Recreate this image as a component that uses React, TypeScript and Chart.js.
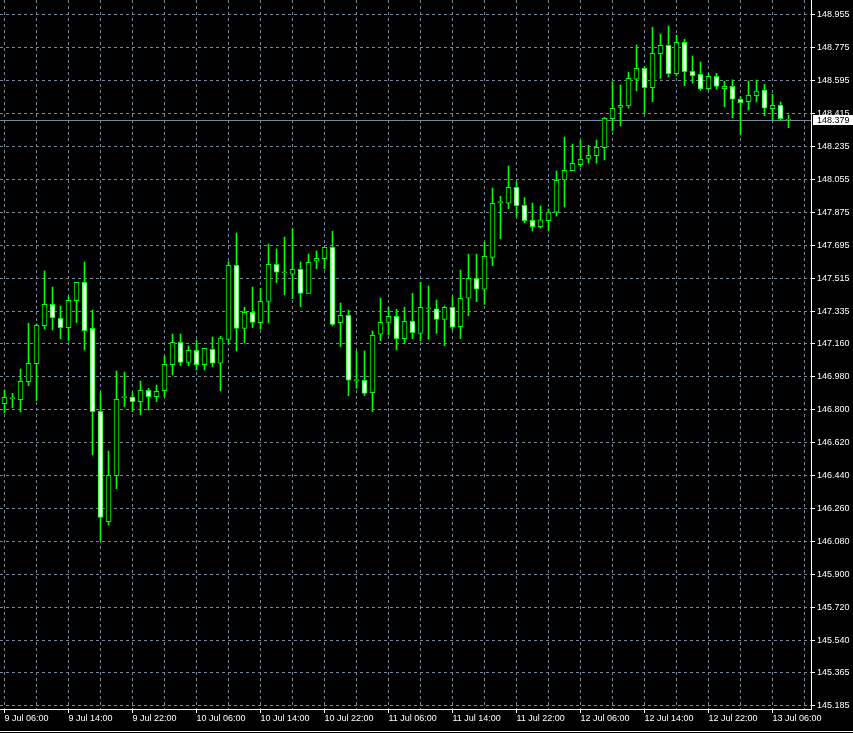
import { useEffect, useRef } from "react";
import { Chart, registerables } from "chart.js";

Chart.register(...registerables);

// Hourly candles, 9 Jul 06:00 → 13 Jul 08:00
const opens = [
  146.832, 146.860, 146.854, 146.952, 147.050, 147.257, 147.374, 147.298, 147.247, 147.394,
  147.494, 147.243, 146.791, 146.189, 146.440, 146.865, 146.869, 146.843, 146.905, 146.870,
  146.903, 147.045, 147.167, 147.058, 147.123, 147.045, 147.129, 147.053, 147.183, 147.587,
  147.243, 147.331, 147.274, 147.390, 147.592, 147.546, 147.538, 147.565, 147.434, 147.609,
  147.623, 147.685, 147.274, 147.314, 146.958, 146.960, 146.892, 147.211, 147.276, 147.309,
  147.187, 147.281, 147.216, 147.350, 147.350, 147.292, 147.358, 147.252, 147.407, 147.516,
  147.456, 147.630, 147.928, 147.925, 148.012, 147.914, 147.832, 147.797, 147.830, 147.877,
  148.052, 148.102, 148.135, 148.170, 148.184, 148.228, 148.386, 148.448, 148.455, 148.602,
  148.661, 148.555, 148.740, 148.786, 148.631, 148.802, 148.644, 148.628, 148.549, 148.617,
  148.549, 148.562, 148.492, 148.479, 148.511, 148.542, 148.440, 148.459, 148.379,
];
const highs = [
  146.907, 146.889, 147.021, 147.271, 147.267, 147.556, 147.468, 147.365, 147.416, 147.494,
  147.605, 147.343, 146.892, 146.574, 147.011, 147.005, 146.892, 146.956, 146.916, 146.934,
  147.092, 147.212, 147.212, 147.147, 147.180, 147.134, 147.196, 147.200, 147.606, 147.763,
  147.358, 147.468, 147.461, 147.703, 147.676, 147.741, 147.785, 147.605, 147.648, 147.665,
  147.685, 147.772, 147.381, 147.343, 147.120, 147.120, 147.229, 147.408, 147.358, 147.347,
  147.358, 147.434, 147.494, 147.474, 147.398, 147.365, 147.416, 147.561, 147.648, 147.648,
  147.712, 148.008, 147.963, 148.128, 148.041, 147.955, 147.926, 147.910, 147.894, 148.101,
  148.286, 148.248, 148.266, 148.241, 148.270, 148.393, 148.588, 148.570, 148.640, 148.788,
  148.669, 148.884, 148.848, 148.891, 148.842, 148.819, 148.728, 148.695, 148.633, 148.633,
  148.591, 148.598, 148.506, 148.591, 148.597, 148.573, 148.519, 148.477, 148.406,
];
const lows = [
  146.783, 146.811, 146.787, 146.930, 146.849, 147.239, 147.234, 147.185, 147.176, 147.274,
  147.125, 146.553, 146.085, 146.171, 146.369, 146.816, 146.789, 146.771, 146.798, 146.843,
  146.870, 146.989, 147.039, 147.039, 147.016, 147.016, 147.034, 146.903, 147.158, 147.121,
  147.163, 147.247, 147.239, 147.274, 147.492, 147.426, 147.405, 147.361, 147.434, 147.568,
  147.568, 147.256, 147.143, 146.876, 146.916, 146.876, 146.789, 147.176, 147.207, 147.125,
  147.162, 147.187, 147.176, 147.183, 147.216, 147.148, 147.234, 147.187, 147.312, 147.388,
  147.374, 147.585, 147.732, 147.895, 147.852, 147.819, 147.774, 147.790, 147.774, 147.855,
  147.905, 148.102, 148.124, 148.143, 148.143, 148.161, 148.319, 148.346, 148.444, 148.537,
  148.413, 148.479, 148.606, 148.613, 148.619, 148.566, 148.580, 148.541, 148.544, 148.548,
  148.450, 148.391, 148.297, 148.433, 148.477, 148.402, 148.379, 148.379, 148.337,
];
const closes = [
  146.867, 146.860, 146.954, 147.053, 147.260, 147.374, 147.301, 147.247, 147.396, 147.494,
  147.230, 146.789, 146.213, 146.442, 146.856, 146.865, 146.843, 146.905, 146.870, 146.900,
  147.047, 147.167, 147.058, 147.123, 147.045, 147.134, 147.053, 147.190, 147.587, 147.243,
  147.331, 147.276, 147.390, 147.592, 147.549, 147.546, 147.565, 147.434, 147.603, 147.625,
  147.685, 147.265, 147.314, 146.960, 146.958, 146.889, 147.205, 147.276, 147.309, 147.187,
  147.281, 147.219, 147.358, 147.350, 147.292, 147.358, 147.249, 147.407, 147.516, 147.456,
  147.636, 147.925, 147.928, 148.012, 147.912, 147.830, 147.797, 147.834, 147.877, 148.050,
  148.105, 148.143, 148.165, 148.186, 148.230, 148.388, 148.443, 148.459, 148.606, 148.661,
  148.555, 148.742, 148.786, 148.631, 148.802, 148.642, 148.620, 148.548, 148.617, 148.562,
  148.562, 148.492, 148.473, 148.513, 148.537, 148.443, 148.459, 148.386, 148.379,
];

// One label every 8 candles (index 0, 8, 16, ...)
const xTickLabels = [
  "9 Jul 06:00", "9 Jul 14:00", "9 Jul 22:00", "10 Jul 06:00", "10 Jul 14:00",
  "10 Jul 22:00", "11 Jul 06:00", "11 Jul 14:00", "11 Jul 22:00", "12 Jul 06:00",
  "12 Jul 14:00", "12 Jul 22:00", "13 Jul 06:00",
];
const yTickLabels = [
  "148.955", "148.775", "148.595", "148.415", "148.235", "148.055", "147.875",
  "147.695", "147.515", "147.335", "147.160", "146.980", "146.800", "146.620",
  "146.440", "146.260", "146.080", "145.900", "145.720", "145.540", "145.365", "145.185",
];
const lastPriceLabel = "148.379";

const Y_MIN = 145.168;
const Y_MAX = 149.033;
const X_MIN = -0.5625;
const X_MAX = 100.8125;

const GREEN = "#00ff00";
const GRID = "#778899";
const FONT = '"Liberation Sans", Arial, sans-serif';

const priceLinePlugin = {
  id: "priceLine",
  beforeDatasetsDraw(chart: any) {
    const { ctx, chartArea, scales } = chart;
    const y = Math.round(scales.y.getPixelForValue(parseFloat(lastPriceLabel))) + 0.5;
    ctx.save();
    ctx.strokeStyle = GRID;
    ctx.lineWidth = 1;
    ctx.beginPath();
    ctx.moveTo(chartArea.left, y);
    ctx.lineTo(chartArea.right, y);
    ctx.stroke();
    ctx.restore();
  },
  afterDraw(chart: any) {
    const { ctx, chartArea, scales, width, height } = chart;
    const y = Math.round(scales.y.getPixelForValue(parseFloat(lastPriceLabel)));
    ctx.save();
    ctx.fillStyle = "#ffffff";
    ctx.fillRect(chartArea.right + 2, y - 5, width - chartArea.right - 2, 10);
    ctx.fillStyle = "#000000";
    ctx.font = `9px ${FONT}`;
    ctx.textBaseline = "middle";
    ctx.textAlign = "left";
    ctx.fillText(lastPriceLabel, chartArea.right + 6, y + 0.5);
    ctx.fillStyle = "#ffffff";
    ctx.fillRect(0, height - 2, width, 1);
    ctx.restore();
  },
};

export default function App() {
  const canvasRef = useRef<HTMLCanvasElement | null>(null);

  useEffect(() => {
    document.body.style.margin = "0";
    document.body.style.background = "#000";
    const canvas = canvasRef.current;
    if (!canvas) return;

    const bodies = opens.map((o, i) => ({ x: i, y: [o, closes[i]] }));
    const wicks = lows.map((l, i) => ({ x: i, y: [l, highs[i]] }));
    const bodyColors = opens.map((o, i) => (closes[i] < o ? "#ffffff" : "#000000"));

    const chart = new Chart(canvas, {
      type: "bar",
      data: {
        datasets: [
          {
            label: "body",
            data: bodies as any,
            backgroundColor: bodyColors,
            borderColor: GREEN,
            borderWidth: 1,
            borderSkipped: false,
            barThickness: 5,
            minBarLength: 1,
            grouped: false,
            order: 0,
          } as any,
          {
            label: "wick",
            data: wicks as any,
            backgroundColor: GREEN,
            borderWidth: 0,
            barThickness: 1,
            minBarLength: 1,
            grouped: false,
            order: 1,
          } as any,
        ],
      },
      options: {
        animation: false,
        responsive: false,
        devicePixelRatio: 1,
        layout: { padding: 0 },
        plugins: {
          legend: { display: false },
          tooltip: { enabled: false },
        },
        events: [],
        scales: {
          x: {
            type: "linear",
            min: X_MIN,
            max: X_MAX,
            offset: false,
            position: "bottom",
            afterBuildTicks: (scale: any) => {
              const t = [];
              for (let v = 0; v <= 100; v += 4) t.push({ value: v });
              scale.ticks = t;
            },
            afterFit: (scale: any) => {
              scale.height = 24;
              scale.paddingLeft = 0;
              scale.paddingRight = 0;
            },
            ticks: {
              autoSkip: false,
              maxRotation: 0,
              minRotation: 0,
              align: "start",
              padding: 0,
              color: "#ffffff",
              font: { family: FONT, size: 9 },
              callback: (v: any) => (v % 8 === 0 ? xTickLabels[v / 8] ?? "" : ""),
            },
            grid: {
              offset: false,
              color: GRID,
              lineWidth: 1,
              drawTicks: true,
              tickLength: 4,
              tickColor: (ctx: any) =>
                ctx.tick && ctx.tick.value % 8 === 0 && ctx.tick.value <= 96 ? "#ffffff" : "rgba(0,0,0,0)",
            },
            border: { display: true, color: "#ffffff", width: 1, dash: [3, 3] },
          } as any,
          y: {
            type: "linear",
            position: "right",
            min: Y_MIN,
            max: Y_MAX,
            beginAtZero: false,
            afterBuildTicks: (scale: any) => {
              scale.ticks = yTickLabels.map((s) => ({ value: parseFloat(s) }));
            },
            afterFit: (scale: any) => {
              scale.width = 42;
              scale.paddingTop = 0;
              scale.paddingBottom = 0;
            },
            ticks: {
              autoSkip: false,
              padding: 2,
              color: "#ffffff",
              font: { family: FONT, size: 9 },
              callback: (_v: any, idx: number) => yTickLabels[idx],
            },
            grid: {
              color: GRID,
              lineWidth: 1,
              drawTicks: true,
              tickLength: 4,
              tickColor: "#ffffff",
            },
            border: { display: true, color: "#ffffff", width: 1, dash: [3, 3] },
          } as any,
        },
      },
      plugins: [priceLinePlugin],
    });

    return () => chart.destroy();
  }, []);

  return (
    <div style={{ position: "absolute", left: 0, top: 0, width: 853, height: 733, background: "#000" }}>
      <canvas ref={canvasRef} width={853} height={733} style={{ display: "block", width: 853, height: 733 }} />
    </div>
  );
}
